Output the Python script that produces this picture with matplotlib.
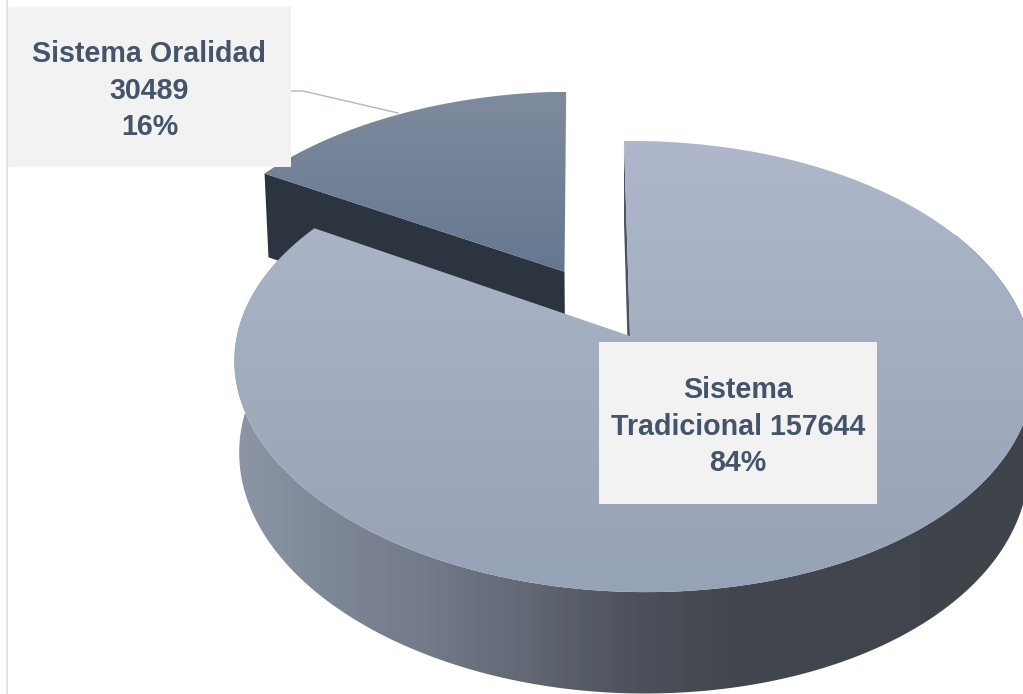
import numpy as np
import matplotlib
matplotlib.use('Agg')
import matplotlib.pyplot as plt
from matplotlib.colors import LinearSegmentedColormap
from matplotlib.patches import Polygon, Rectangle

#%%
# data
names = ['Sistema\nTradicional', 'Sistema Oralidad\n']
values = [157644, 30489]
percents = [84, 16]

# projection of the 3D pie, in picture pixels
cx, cy = 630, 336
A_left, A_right, B, C = 392, 400, 221.4, 92
k, m = 0.135, 0.012
tilt = 10
start = -1.0       # degrees, clockwise from the back of the pie
explode = 0.346

#%%
def project(X, Y, h=0):
    # disc coordinates to pixels, h=1 is the bottom of the pie
    X, Y = np.asarray(X, float), np.asarray(Y, float)
    w = 1 + k*Y + m*h
    A = np.where(X > 0, A_right, A_left)
    return cx + A*X/w, cy - (B*Y - C*h)/w + tilt*X*(1 - Y)/2

def rim(a0, a1, offset=(0, 0), h=0, n=300):
    t = np.radians(np.linspace(a0, a1, n))
    return project(offset[0] + np.sin(t), offset[1] + np.cos(t), h)

def fill_gradient(ax, poly, colors, vertical=True, extent=(0, 1023, 694, 0)):
    # gradient image clipped to a polygon
    cmap = LinearSegmentedColormap.from_list('g', colors)
    g = np.linspace(0, 1, 256)
    g = g.reshape(-1, 1) if vertical else g.reshape(1, -1)
    im = ax.imshow(g, cmap=cmap, extent=extent, aspect='auto', zorder=poly.get_zorder())
    ax.add_patch(poly)
    poly.set_visible(False)
    im.set_clip_path(poly)

#%%
fig = plt.figure(figsize=(10.23, 6.94), dpi=100)
ax = fig.add_axes([0, 0, 1, 1])
ax.axis('off')

end = start + 360*values[0]/sum(values)
mid = np.radians((end + start + 360)/2)
off = (explode*np.sin(mid), explode*np.cos(mid))

# small slice, dark cut face then top
c0 = project(off[0], off[1])
c1 = project(off[0], off[1], 1)
x0, y0 = rim(end, end, off, 0, 1)
x1, y1 = rim(end, end, off, 1, 1)
ax.add_patch(Polygon([(x0[0], y0[0]), c0, c1, (x1[0], y1[0])], color='#2C3440', zorder=2, lw=0))
xs, ys = rim(end, start + 360, off)
fill_gradient(ax, Polygon(np.r_[np.c_[xs, ys], [c0]], zorder=3, transform=ax.transData),
              ['#7F8B9E', '#657790'], extent=(0, 1023, 272, 92))

# big slice, side
xa, ya = rim(60, end)
xb, yb = rim(60, end, h=1)
side = np.r_[np.c_[xa, ya], np.c_[xb, yb][::-1]]
side_stops = [(0, '#8D96A6'), (0.115, '#7F8897'), (0.242, '#737A89'), (0.369, '#626874'),
              (0.502, '#4D525C'), (0.629, '#42464E'), (1, '#3F444B')]
fill_gradient(ax, Polygon(side, zorder=4, transform=ax.transData), side_stops,
              vertical=False, extent=(234, 1023, 694, 0))

# thin visible cut face at the start of the big slice
xt, yt = rim(start, start, n=1)
xl, yl = rim(start, start, h=1, n=1)
ax.add_patch(Polygon([(xt[0], yt[0]), (cx, cy), project(0, 0, 1), (xl[0], yl[0])],
                     color='#4A5361', zorder=5, lw=0))

# big slice, top
xs, ys = rim(start, end)
fill_gradient(ax, Polygon(np.r_[np.c_[xs, ys], [(cx, cy)]], zorder=6, transform=ax.transData),
              ['#AEB8CA', '#96A2B5'], extent=(0, 1023, 592, 141))

# left rule and leader line
ax.plot([6.5, 6.5], [0, 694], color='#DCE4F0', lw=1.5, zorder=1)
ax.plot([291, 303, 398], [91, 91, 113], color='#A9B8CF', lw=1, zorder=7)

# label boxes
boxes = [(599, 342, 278, 162), (8, 7, 283, 160)]
for name, value, pct, box in zip(names, values, percents, boxes):
    ax.add_patch(Rectangle(box[:2], box[2], box[3], color='#F2F2F2', lw=0, zorder=8))
    ax.text(box[0] + box[2]/2, box[1] + box[3]/2 + 3.5,
            name + (' ' if name.endswith('l') else '') + str(value) + '\n' + str(pct) + '%',
            ha='center', va='center', color='#44546A', fontsize=20.6, fontweight='bold',
            family='Liberation Sans', linespacing=1.37, zorder=9)

ax.set_xlim(0, 1023)
ax.set_ylim(694, 0)
fig.savefig('out.png', dpi=100)
